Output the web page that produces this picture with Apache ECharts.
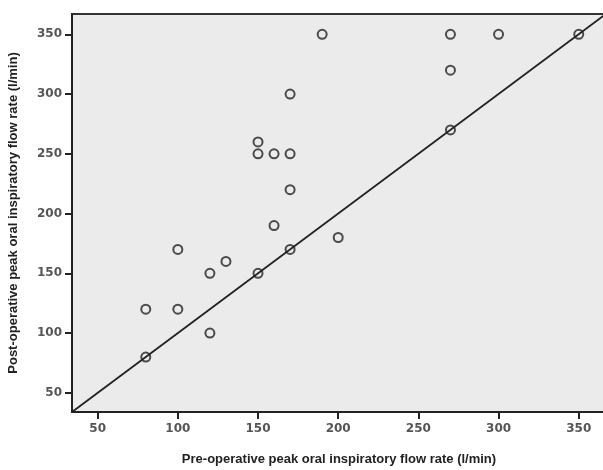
<!DOCTYPE html>
<html>
<head>
<meta charset="utf-8">
<script src="https://cdn.jsdelivr.net/npm/echarts@6/dist/echarts.min.js"></script>
<style>
  html, body { margin: 0; padding: 0; background: #fff; }
  #chart { width: 603px; height: 470px; }
</style>
</head>
<body>
<div id="chart"></div>
<script>
// pre-op vs post-op PIF (l/min)
var preOp  = [80, 80, 100, 100, 120, 120, 130, 150, 150, 150, 160, 160, 170, 170, 170, 170, 190, 200, 270, 270, 270, 300, 350];
var postOp = [120, 80, 170, 120, 150, 100, 160, 260, 250, 150, 250, 190, 300, 250, 220, 170, 350, 180, 350, 320, 270, 350, 350];
var tickValues = [50, 100, 150, 200, 250, 300, 350];
var axisRange = [34, 367];   // identity line runs across the whole range

var points = preOp.map(function (x, i) { return [x, postOp[i]]; });

var chart = echarts.init(document.getElementById('chart'));

var axisCommon = {
  type: 'value',
  min: axisRange[0],
  max: axisRange[1],
  interval: 50,
  nameLocation: 'middle',
  nameTextStyle: { fontFamily: 'Liberation Sans', fontWeight: 'bold', fontSize: 13, color: '#222' },
  axisLine: { show: true, lineStyle: { color: '#222', width: 2 } },
  axisTick: { show: true, length: 7, lineStyle: { color: '#222', width: 2 }, customValues: tickValues },
  axisLabel: { color: '#555', fontFamily: 'DejaVu Sans', fontWeight: 'bold', fontSize: 12, customValues: tickValues },
  splitLine: { show: false }
};

chart.setOption({
  animation: false,
  grid: {
    // plot runs past the right edge like in the source image
    left: 72, width: 534, top: 14, bottom: 58,
    outerBoundsMode: 'none',
    show: true,
    backgroundColor: '#ebebeb',
    borderColor: '#333',
    borderWidth: 2
  },
  xAxis: Object.assign({}, axisCommon, {
    name: 'Pre-operative peak oral inspiratory flow rate (l/min)',
    nameGap: 41,
    axisLabel: Object.assign({}, axisCommon.axisLabel, { margin: 11 })
  }),
  yAxis: Object.assign({}, axisCommon, {
    name: 'Post-operative peak oral inspiratory flow rate (l/min)',
    nameGap: 52,
    axisLabel: Object.assign({}, axisCommon.axisLabel, { margin: 10 })
  }),
  series: [
    {
      type: 'line',
      data: axisRange.map(function (v) { return [v, v]; }),
      symbol: 'none',
      lineStyle: { color: '#222', width: 1.8 },
      z: 2
    },
    {
      type: 'scatter',
      data: points,
      symbol: 'circle',
      symbolSize: 9,
      itemStyle: { color: 'rgba(0,0,0,0)', borderColor: '#222', borderWidth: 2 },
      z: 3
    }
  ]
});
</script>
</body>
</html>
